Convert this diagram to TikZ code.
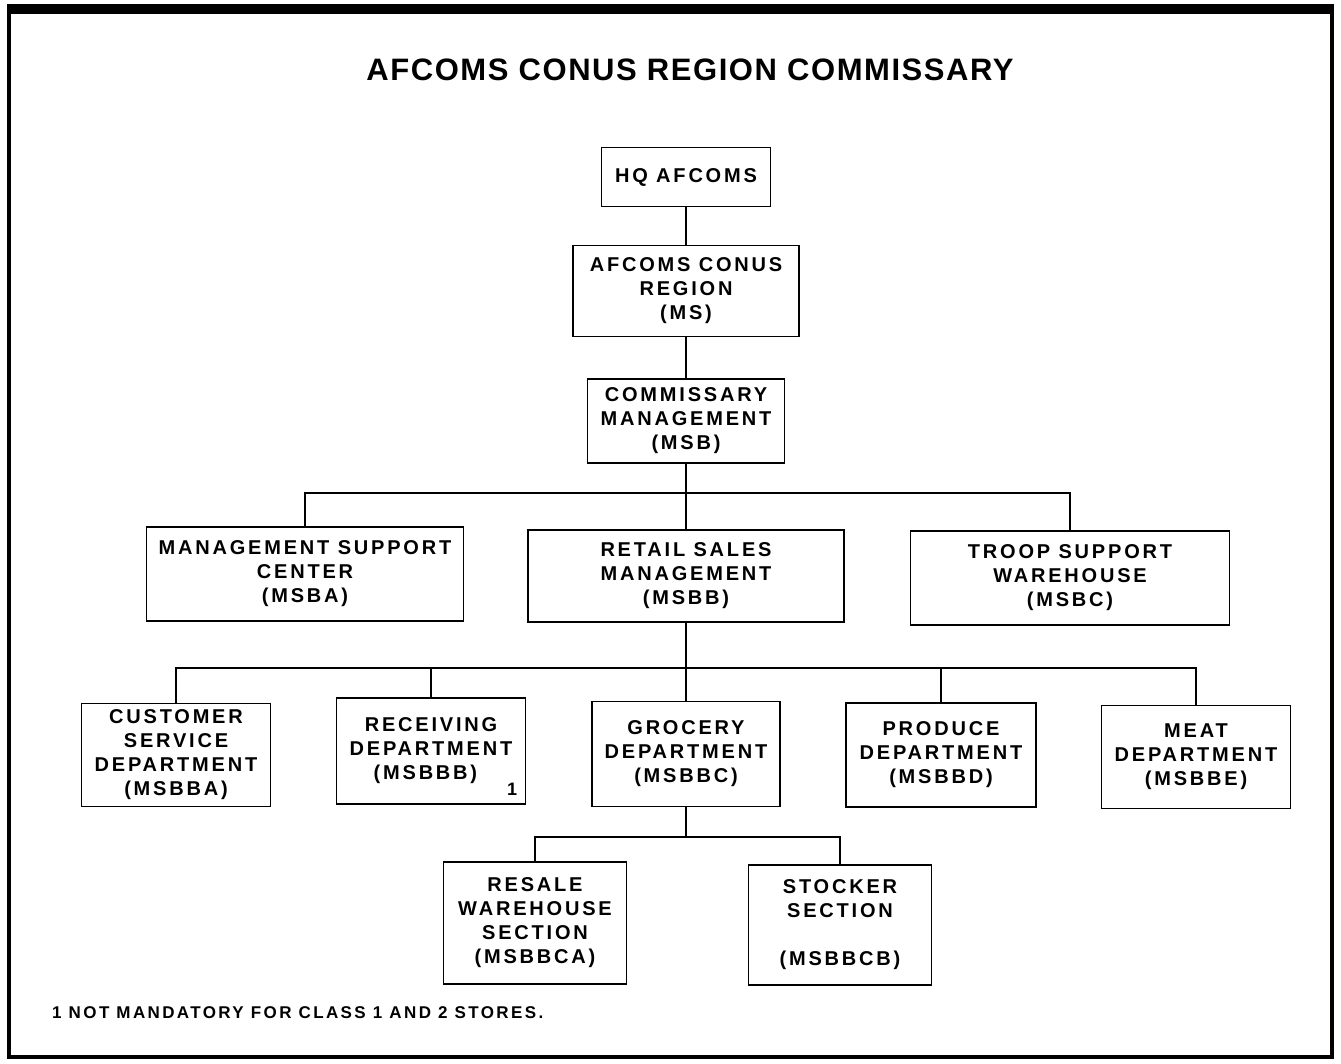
\documentclass[tikz,border=0pt]{standalone}
\usepackage{fontspec}
\setmainfont{Liberation Sans}
\newfontfamily\boxfont[LetterSpace=14]{Liberation Sans}
\newfontfamily\titlefont[LetterSpace=5]{Liberation Sans}
\usetikzlibrary{positioning}

\tikzset{
  unit/.style = {draw, line width=1.6pt, align=center, inner sep=0pt,
    font=\boxfont\bfseries\fontsize{20}{24}\selectfont},
  link/.style = {line width=1.6pt}
}

\begin{document}
\begin{tikzpicture}[x=1pt, y=-1pt]
  \useasboundingbox (0,0) rectangle (1341,1063);
  % frame
  \fill (7,4) rectangle (1334,14);
  \draw[line width=3.5pt] (9,9) -- (9,1057) -- (1332,1057) -- (1332,9);

  \node[font=\titlefont\bfseries\fontsize{31}{36}\selectfont] (title) at (690,70) {AFCOMS CONUS REGION COMMISSARY};

  % top chain
  \node[unit, minimum width=169, minimum height=59] (hq) at (686,177) {HQ AFCOMS};
  \node[unit, minimum width=226, minimum height=91] (ms) at (686,291) {AFCOMS CONUS\\REGION\\(MS)};
  \node[unit, minimum width=197, minimum height=84] (msb) at (686,421) {COMMISSARY\\MANAGEMENT\\(MSB)};

  % second level
  \node[unit, minimum width=317, minimum height=94] (msba) at (305,574) {MANAGEMENT SUPPORT\\CENTER\\(MSBA)};
  \node[unit, minimum width=316, minimum height=92] (msbb) at (686,576) {RETAIL SALES\\MANAGEMENT\\(MSBB)};
  \node[unit, minimum width=319, minimum height=94] (msbc) at (1070,578) {TROOP SUPPORT\\WAREHOUSE\\(MSBC)};

  % departments
  \node[unit, minimum width=189, minimum height=103] (msbba) at (176,755) {CUSTOMER\\SERVICE\\DEPARTMENT\\(MSBBA)};
  \node[unit, minimum width=189, minimum height=106] (msbbb) at (431,751) {RECEIVING\\DEPARTMENT\\(MSBBB)\phantom{1}};
  \node[unit, minimum width=188, minimum height=105] (msbbc) at (686,754) {GROCERY\\DEPARTMENT\\(MSBBC)};
  \node[unit, minimum width=190, minimum height=104] (msbbd) at (941,755) {PRODUCE\\DEPARTMENT\\(MSBBD)};
  \node[unit, minimum width=189, minimum height=103] (msbbe) at (1196,757) {MEAT\\DEPARTMENT\\(MSBBE)};
  \node[font=\boxfont\bfseries\fontsize{18}{20}\selectfont, anchor=south east, inner sep=0pt] (note) at ([xshift=-9pt,yshift=9pt]msbbb.south east) {1};

  % sections
  \node[unit, minimum width=183, minimum height=122] (msbbca) at (535,923) {RESALE\\WAREHOUSE\\SECTION\\(MSBBCA)};
  \node[unit, minimum width=183, minimum height=120] (msbbcb) at (840,925) {STOCKER\\SECTION\\\strut\\(MSBBCB)};

  \node[font=\boxfont\bfseries\fontsize{17}{20}\selectfont, anchor=west, inner sep=0pt] (foot) at (52,1013) {1 NOT MANDATORY FOR CLASS 1 AND 2 STORES.};

  % bus points
  \coordinate (bus1) at (686,493);
  \coordinate (bus2) at (686,668);
  \coordinate (bus3) at (686,837);

  \draw[link] (hq) -- (ms);
  \draw[link] (ms) -- (msb);
  \draw[link] (msb) -- (msbb);
  \draw[link] (msba.north) |- (bus1) -| (msbc.north);
  \draw[link] (msbb) -- (msbbc);
  \draw[link] (msbba.north) |- (bus2) -| (msbbe.north);
  \draw[link] (msbbb.north) -- (msbbb.north |- bus2);
  \draw[link] (msbbd.north) -- (msbbd.north |- bus2);
  \draw[link] (msbbca.north) |- (bus3) -| (msbbcb.north);
  \draw[link] (msbbc.south) -- (bus3);
\end{tikzpicture}
\end{document}
